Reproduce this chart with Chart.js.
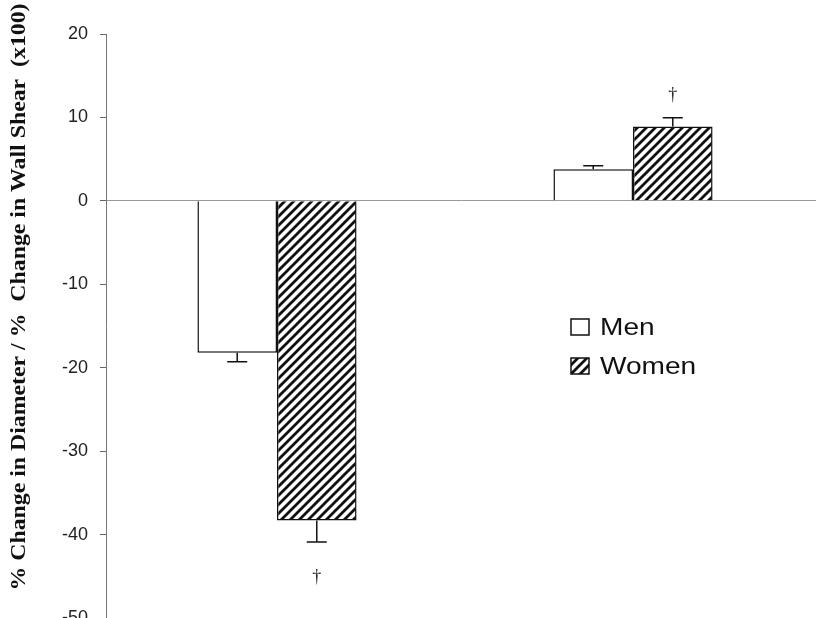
<!DOCTYPE html>
<html>
<head>
<meta charset="utf-8">
<script src="https://cdn.jsdelivr.net/npm/chart.js@4.4.1/dist/chart.umd.min.js"></script>
<style>
  html, body { margin: 0; padding: 0; background: #fff; }
  #wrap { width: 816px; height: 618px; }
</style>
</head>
<body>
<div id="wrap"><canvas id="c" width="816" height="618"></canvas></div>
<script>
// Groups: diameter change, wall shear change
const categories = ['Diameter', 'Wall Shear'];
const seriesNames = ['Men', 'Women'];
const menValues = [-18.2, 3.8];
const womenValues = [-38.3, 8.9];
const menErrors = [1.1, 0.4];
const womenErrors = [2.6, 1.05];
// significance marks on the women bars
const womenMarks = ['†', '†'];
const yTicks = [20, 10, 0, -10, -20, -30, -40, -50];
const yTitle = '% Change in Diameter / %  Change in Wall Shear  (x100)';

function makeHatch() {
  const s = 9;
  const p = document.createElement('canvas');
  p.width = s; p.height = s;
  const g = p.getContext('2d');
  g.fillStyle = '#fff';
  g.fillRect(0, 0, s, s);
  g.strokeStyle = '#111';
  g.lineWidth = 2.8;
  g.beginPath();
  g.moveTo(-2, s + 2); g.lineTo(s + 2, -2);
  g.moveTo(-2, 2); g.lineTo(2, -2);
  g.moveTo(s - 2, s + 2); g.lineTo(s + 2, s - 2);
  g.stroke();
  return g.createPattern(p, 'repeat');
}
const hatch = makeHatch();

// Error bars and significance marks
const errorBars = {
  id: 'errorBars',
  afterDatasetsDraw(chart) {
    const ctx = chart.ctx;
    const y = chart.scales.y;
    const errs = [menErrors, womenErrors];
    ctx.save();
    ctx.strokeStyle = '#111';
    ctx.lineWidth = 1.5;
    chart.data.datasets.forEach((ds, di) => {
      const meta = chart.getDatasetMeta(di);
      meta.data.forEach((bar, i) => {
        const v = ds.data[i].y;
        const e = errs[di][i];
        const end = v < 0 ? v - e : v + e;
        const y0 = y.getPixelForValue(v);
        const y1 = y.getPixelForValue(end);
        ctx.beginPath();
        ctx.moveTo(bar.x, y0); ctx.lineTo(bar.x, y1);
        ctx.moveTo(bar.x - 10, y1); ctx.lineTo(bar.x + 10, y1);
        ctx.stroke();
        if (di === 1 && womenMarks[i]) {
          ctx.fillStyle = '#222';
          ctx.font = '18px "Liberation Serif", serif';
          ctx.textAlign = 'center';
          if (v < 0) {
            ctx.textBaseline = 'top';
            ctx.fillText(womenMarks[i], bar.x, y1 + 26);
          } else {
            ctx.textBaseline = 'bottom';
            ctx.fillText(womenMarks[i], bar.x, y1 - 14);
          }
        }
      });
    });
    ctx.restore();
  }
};

// Axis title and in-plot legend
const decorations = {
  id: 'decorations',
  afterDraw(chart) {
    const ctx = chart.ctx;
    ctx.save();
    ctx.translate(20, 297);
    ctx.rotate(-Math.PI / 2);
    ctx.fillStyle = '#111';
    ctx.font = 'bold 21px "Liberation Serif", serif';
    const w = ctx.measureText(yTitle).width;
    ctx.scale(587 / w, 1);
    ctx.textAlign = 'center';
    ctx.textBaseline = 'middle';
    ctx.fillText(yTitle, 0, 0);
    ctx.restore();

    ctx.save();
    const fills = ['#fff', hatch];
    const rows = [327, 366];
    ctx.textBaseline = 'middle';
    ctx.textAlign = 'left';
    seriesNames.forEach((name, i) => {
      const cy = rows[i];
      ctx.fillStyle = fills[i];
      ctx.fillRect(571, cy - 8, 18, 16);
      ctx.strokeStyle = '#111';
      ctx.lineWidth = 1.5;
      ctx.strokeRect(571, cy - 8, 18, 16);
      ctx.save();
      ctx.translate(600, cy + 1);
      ctx.scale(1.17, 1);
      ctx.fillStyle = '#111';
      ctx.font = '24px "Liberation Sans", Arial, sans-serif';
      ctx.fillText(name, 0, 0);
      ctx.restore();
    });
    ctx.restore();
  }
};

new Chart(document.getElementById('c'), {
  type: 'bar',
  data: {
    labels: categories,
    datasets: [
      { label: seriesNames[0], data: menValues.map((v, i) => ({ x: i, y: v })),
        backgroundColor: '#fff', borderColor: '#111', borderWidth: 1.5 },
      { label: seriesNames[1], data: womenValues.map((v, i) => ({ x: i, y: v })),
        backgroundColor: hatch, borderColor: '#111', borderWidth: 1.5 }
    ]
  },
  options: {
    responsive: false,
    animation: false,
    layout: { padding: { left: 0, top: 34, right: 0, bottom: 0 } },
    plugins: { legend: { display: false }, tooltip: { enabled: false } },
    datasets: { bar: { categoryPercentage: 0.447, barPercentage: 1.0 } },
    scales: {
      x: {
        type: 'linear', display: false, offset: false,
        min: -0.4803, max: 1.514,
        afterBuildTicks(s) { s.ticks = categories.map((c, i) => ({ value: i })); }
      },
      y: {
        min: -50, max: 20,
        afterBuildTicks(s) { s.ticks = yTicks.map(v => ({ value: v })); },
        afterFit(s) { s.width = 106; s.paddingTop = 0; s.paddingBottom = 0; },
        border: { display: true, color: '#777', width: 1 },
        grid: {
          color: c => (c.tick && c.tick.value === 0) ? '#999' : 'rgba(0,0,0,0)',
          tickColor: '#666',
          tickLength: 6,
          drawOnChartArea: true
        },
        ticks: {
          color: '#222',
          padding: 12,
          font: { family: '"Liberation Sans", Arial, sans-serif', size: 18 }
        }
      }
    }
  },
  plugins: [errorBars, decorations]
});
</script>
</body>
</html>
